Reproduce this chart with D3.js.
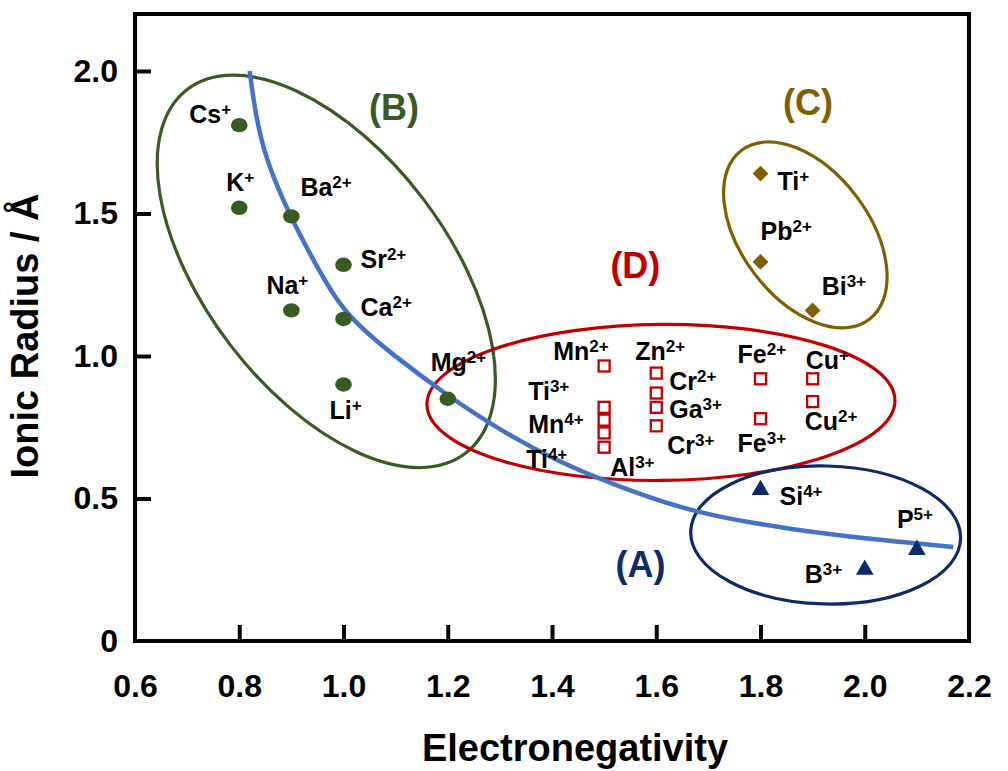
<!DOCTYPE html>
<html>
<head>
<meta charset="utf-8">
<script src="https://cdn.jsdelivr.net/npm/d3@7"></script>
<style>
    body { margin: 0; background: #fff; }
    svg text { font-family: "Liberation Sans", Arial, sans-serif; font-weight: bold; }
</style>
</head>
<body>
<div id="chart"></div>
<script>
// ---- data ----
const xTickValues = [0.6, 0.8, 1.0, 1.2, 1.4, 1.6, 1.8, 2.0, 2.2];
const yTickValues = [0, 0.5, 1.0, 1.5, 2.0];
const yTickLabels = ["0", "0.5", "1.0", "1.5", "2.0"];

// group (B): alkali / alkaline earth
const groupB = [
    {ion: "Cs", charge: "+", en: 0.8, r: 1.81},
    {ion: "K", charge: "+", en: 0.8, r: 1.52},
    {ion: "Ba", charge: "2+", en: 0.9, r: 1.49},
    {ion: "Sr", charge: "2+", en: 1.0, r: 1.32},
    {ion: "Na", charge: "+", en: 0.9, r: 1.16},
    {ion: "Ca", charge: "2+", en: 1.0, r: 1.13},
    {ion: "Li", charge: "+", en: 1.0, r: 0.90},
    {ion: "Mg", charge: "2+", en: 1.2, r: 0.85}
];

// group (D): transition metals etc.
const groupD = [
    {ion: "Mn", charge: "2+", en: 1.5, r: 0.965},
    {ion: "Ti", charge: "3+", en: 1.5, r: 0.82},
    {ion: "Mn", charge: "4+", en: 1.5, r: 0.775},
    {ion: "Ti", charge: "4+", en: 1.5, r: 0.73},
    {ion: "Al", charge: "3+", en: 1.5, r: 0.68},
    {ion: "Zn", charge: "2+", en: 1.6, r: 0.94},
    {ion: "Cr", charge: "2+", en: 1.6, r: 0.87},
    {ion: "Ga", charge: "3+", en: 1.6, r: 0.82},
    {ion: "Cr", charge: "3+", en: 1.6, r: 0.755},
    {ion: "Fe", charge: "2+", en: 1.8, r: 0.92},
    {ion: "Fe", charge: "3+", en: 1.8, r: 0.78},
    {ion: "Cu", charge: "+", en: 1.9, r: 0.92},
    {ion: "Cu", charge: "2+", en: 1.9, r: 0.84}
];

// group (C)
const groupC = [
    {ion: "Ti", charge: "+", en: 1.8, r: 1.64},
    {ion: "Pb", charge: "2+", en: 1.8, r: 1.33},
    {ion: "Bi", charge: "3+", en: 1.9, r: 1.16}
];

// group (A)
const groupA = [
    {ion: "Si", charge: "4+", en: 1.8, r: 0.53},
    {ion: "B", charge: "3+", en: 2.0, r: 0.25},
    {ion: "P", charge: "5+", en: 2.1, r: 0.32}
];

// blue trend curve
const trendEN = [0.82, 0.83, 0.85, 0.90, 0.95, 1.0, 1.09, 1.2, 1.3, 1.41, 1.53, 1.67, 1.86, 2.05, 2.17];
const trendR = [2.0, 1.86, 1.69, 1.48, 1.31, 1.15, 1.01, 0.86, 0.74, 0.63, 0.54, 0.45, 0.39, 0.35, 0.33];

// group outlines: centre in data units
const groups = [
    {name: "(B)", cx: 0.967, cy: 1.297, lx: 1.049, ly: 1.828, color: "#3a5a24"},
    {name: "(D)", cx: 1.609, cy: 0.837, lx: 1.512, ly: 1.272, color: "#c00000"},
    {name: "(C)", cx: 1.886, cy: 1.425, lx: 1.843, ly: 1.846, color: "#7f6000"},
    {name: "(A)", cx: 1.925, cy: 0.372, lx: 1.522, ly: 0.225, color: "#0f2a68"}
];

// ---- layout ----
const ellipseShape = {
    "(B)": {rx: 229, ry: 121, angle: 52.6},
    "(D)": {rx: 234, ry: 78, angle: -0.5},
    "(C)": {rx: 106, ry: 64, angle: 53},
    "(A)": {rx: 135, ry: 69, angle: 1.5}
};

// label offsets (left edge of text, baseline) from the marker, px
const labelOffsets = [
    // B
    [-50, -2], [-13, -17], [9, -20], [17, 3], [-25, -16], [17, -3], [-14, 34], [-17, -28],
    // D
    [-51, -6], [-76, -7], [-76, 13], [-78, 35], [6, 29], [-21, -13], [13, -3], [13, 11], [11, 28],
    [-23, -16], [-23, 33], [-7, -10], [-8, 28],
    // C
    [17, 16], [0, -22], [9, -15],
    // A
    [19, 15], [-60, 13], [-20, -22]
];

const width = 1008, height = 771;
const svg = d3.select("#chart").append("svg")
    .attr("width", width)
    .attr("height", height);

svg.append("rect").attr("width", width).attr("height", height).attr("fill", "#fff");

const x = d3.scaleLinear().domain([0.6, 2.2]).range([135, 969]);
const y = d3.scaleLinear().domain([0, 2.2]).range([641, 14]);

// frame
svg.append("rect")
    .attr("x", x(0.6)).attr("y", y(2.2))
    .attr("width", x(2.2) - x(0.6)).attr("height", y(0) - y(2.2))
    .attr("fill", "none").attr("stroke", "#000").attr("stroke-width", 4);

// inner tick marks
const xTickAxis = svg.append("g")
    .attr("transform", `translate(0, ${y(0)})`)
    .call(d3.axisBottom(x).tickValues(xTickValues.slice(1, -1)).tickSize(-16).tickFormat(""));
const yTickAxis = svg.append("g")
    .attr("transform", `translate(${x(0.6)}, 0)`)
    .call(d3.axisLeft(y).tickValues(yTickValues.slice(1)).tickSize(-16).tickFormat(""));
[xTickAxis, yTickAxis].forEach(a => {
    a.select(".domain").remove();
    a.selectAll("line").attr("stroke", "#000").attr("stroke-width", 4);
});

// tick labels
const xLabelAxis = svg.append("g")
    .attr("transform", `translate(0, ${y(0)})`)
    .call(d3.axisBottom(x).tickValues(xTickValues).tickSize(0).tickPadding(33).tickFormat(d3.format(".1f")));
const yLabelAxis = svg.append("g")
    .attr("transform", `translate(${x(0.6)}, 0)`)
    .call(d3.axisLeft(y).tickValues(yTickValues).tickSize(0).tickPadding(17)
        .tickFormat((d, i) => yTickLabels[i]));
[xLabelAxis, yLabelAxis].forEach(a => {
    a.select(".domain").remove();
    a.selectAll("text")
        .attr("fill", "#000")
        .style("font-size", "32px")
        .style("font-family", "'Liberation Sans', Arial, sans-serif")
        .style("font-weight", "bold");
});

// axis titles
svg.append("text")
    .attr("x", 575).attr("y", 761)
    .attr("text-anchor", "middle")
    .style("font-size", "38px")
    .text("Electronegativity");

svg.append("text")
    .attr("transform", "translate(38, 336) rotate(-90)")
    .attr("text-anchor", "middle")
    .style("font-size", "38px")
    .text("Ionic Radius / Å");

// group ellipses
svg.append("g").selectAll("ellipse")
    .data(groups)
    .join("ellipse")
    .attr("transform", d => `translate(${x(d.cx)}, ${y(d.cy)}) rotate(${ellipseShape[d.name].angle})`)
    .attr("rx", d => ellipseShape[d.name].rx)
    .attr("ry", d => ellipseShape[d.name].ry)
    .attr("fill", "none")
    .attr("stroke", d => d.color)
    .attr("stroke-width", 3.2);

// group names
svg.append("g").selectAll("text")
    .data(groups)
    .join("text")
    .attr("x", d => x(d.lx))
    .attr("y", d => y(d.ly))
    .attr("fill", d => d.color)
    .style("font-size", "36px")
    .text(d => d.name);

// trend line (smoothed through the read points)
const trend = trendEN.map((e, i) => ({en: e, r: trendR[i]}));
svg.append("path")
    .datum(trend)
    .attr("d", d3.line().x(d => x(d.en)).y(d => y(d.r)).curve(d3.curveBasis))
    .attr("fill", "none")
    .attr("stroke", "#4472c4")
    .attr("stroke-width", 4.5);

// markers
svg.append("g").selectAll("ellipse")
    .data(groupB)
    .join("ellipse")
    .attr("cx", d => x(d.en)).attr("cy", d => y(d.r))
    .attr("rx", 8.3).attr("ry", 7.2)
    .attr("fill", "#3a5a24");

svg.append("g").selectAll("rect")
    .data(groupD)
    .join("rect")
    .attr("x", d => x(d.en) - 5.5).attr("y", d => y(d.r) - 5.5)
    .attr("width", 11).attr("height", 11)
    .attr("fill", "#fff")
    .attr("stroke", "#c00000")
    .attr("stroke-width", 2.3);

svg.append("g").selectAll("path")
    .data(groupC)
    .join("path")
    .attr("transform", d => `translate(${x(d.en)}, ${y(d.r)}) rotate(45)`)
    .attr("d", d3.symbol(d3.symbolSquare, 125))
    .attr("fill", "#7f6000");

svg.append("g").selectAll("path")
    .data(groupA)
    .join("path")
    .attr("transform", d => `translate(${x(d.en)}, ${y(d.r)})`)
    .attr("d", d3.symbol(d3.symbolTriangle, 135))
    .attr("fill", "#0f2a68");

// ion labels with superscript charge
const allIons = groupB.concat(groupD, groupC, groupA);
const labels = svg.append("g").selectAll("text")
    .data(allIons)
    .join("text")
    .attr("x", (d, i) => x(d.en) + labelOffsets[i][0])
    .attr("y", (d, i) => y(d.r) + labelOffsets[i][1])
    .attr("fill", "#000")
    .style("font-size", "25px");
labels.append("tspan").text(d => d.ion);
labels.append("tspan")
    .attr("dy", -8)
    .style("font-size", "17px")
    .text(d => d.charge);
</script>
</body>
</html>
